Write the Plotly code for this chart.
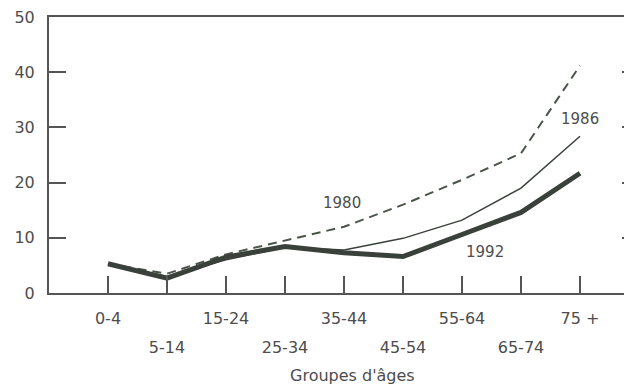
import plotly.graph_objects as go

categories = ["0-4", "5-14", "15-24", "25-34", "35-44", "45-54", "55-64", "65-74", "75 +"]
y1980 = [5.3, 3.5, 7.0, 9.5, 12.0, 16.0, 20.5, 25.3, 41.2]
y1986 = [5.3, 3.0, 6.0, 8.3, 7.8, 9.9, 13.2, 19.0, 28.4]
y1992 = [5.3, 2.7, 6.5, 8.4, 7.3, 6.6, 10.6, 14.6, 21.7]
y_ticks = [0, 10, 20, 30, 40, 50]
x_title = "Groupes d'âges"
series_labels = [("1980", 3.97, 16.3), ("1986", 8.0, 31.5), ("1992", 6.39, 7.4)]

idx = list(range(len(categories)))
row2_vals = [i for i in idx if i % 2 == 1]

LINE = "#3a403a"
TEXT = "#4d4d4d"
FONT = "DejaVu Sans"

fig = go.Figure()
fig.add_trace(go.Scatter(x=idx, y=y1980, mode="lines",
                         line=dict(color="#4a554a", width=2, dash="9px,6px"),
                         showlegend=False, hoverinfo="skip"))
fig.add_trace(go.Scatter(x=idx, y=y1986, mode="lines",
                         line=dict(color=LINE, width=1.5),
                         showlegend=False, hoverinfo="skip"))
fig.add_trace(go.Scatter(x=idx, y=y1992, mode="lines",
                         line=dict(color=LINE, width=5),
                         showlegend=False, hoverinfo="skip"))
# helper trace for second-row category labels
fig.add_trace(go.Scatter(x=[None], y=[None], xaxis="x2",
                         showlegend=False, hoverinfo="skip"))

for name, xv, yv in series_labels:
    fig.add_annotation(x=xv, y=yv, text=name, showarrow=False,
                       font=dict(family=FONT, size=15, color=TEXT))

fig.add_annotation(x=0.514, y=-0.3, xref="paper", yref="paper", text=x_title,
                   showarrow=False, font=dict(family=FONT, size=16, color=TEXT),
                   yanchor="middle")

xr = [-1, 9]
fig.update_layout(
    width=633, height=378,
    margin=dict(l=41, r=0, t=9, b=93),
    paper_bgcolor="white", plot_bgcolor="white",
    font=dict(family=FONT, size=16, color=TEXT),
    xaxis=dict(range=xr, tickvals=idx,
               ticktext=[categories[i] if i % 2 == 0 else "" for i in idx],
               ticks="inside", ticklen=17, tickwidth=1.5, tickcolor="#555",
               showline=True, linecolor="#555", linewidth=2, mirror=True,
               showgrid=False, zeroline=False, ticklabelstandoff=10,
               tickfont=dict(family=FONT, size=16, color=TEXT)),
    xaxis2=dict(range=xr, overlaying="x", anchor="y", side="bottom",
                tickvals=row2_vals, ticktext=[categories[i] for i in row2_vals],
                ticks="", showline=False, showgrid=False, zeroline=False,
                ticklabelstandoff=43,
                tickfont=dict(family=FONT, size=16, color=TEXT)),
    yaxis=dict(range=[0, 50], tickvals=y_ticks, ticks="inside", ticklen=17,
               tickwidth=1.5, tickcolor="#555",
               showline=True, linecolor="#555", linewidth=2, mirror="ticks",
               showgrid=False, zeroline=False, ticklabelstandoff=9,
               ticklabeloverflow="allow",
               tickfont=dict(family=FONT, size=16, color=TEXT)),
)

fig.write_html("out.html")
